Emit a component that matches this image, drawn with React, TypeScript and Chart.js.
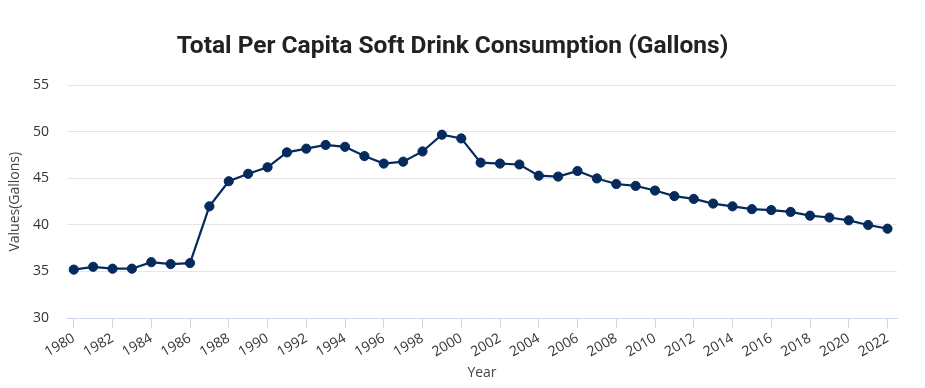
import React, { useEffect, useRef } from "react";
import { Chart, registerables } from "chart.js";

Chart.register(...registerables);

const years: number[] = [
  1980, 1981, 1982, 1983, 1984, 1985, 1986, 1987, 1988, 1989, 1990, 1991, 1992, 1993,
  1994, 1995, 1996, 1997, 1998, 1999, 2000, 2001, 2002, 2003, 2004, 2005, 2006, 2007,
  2008, 2009, 2010, 2011, 2012, 2013, 2014, 2015, 2016, 2017, 2018, 2019, 2020, 2021, 2022,
];

const gallons: number[] = [
  35.2, 35.5, 35.3, 35.3, 36.0, 35.8, 35.9, 42.0, 44.7, 45.5, 46.2, 47.8, 48.2, 48.6,
  48.4, 47.4, 46.6, 46.8, 47.9, 49.7, 49.3, 46.7, 46.6, 46.5, 45.3, 45.2, 45.8, 45.0,
  44.4, 44.2, 43.7, 43.1, 42.8, 42.3, 42.0, 41.7, 41.6, 41.4, 41.0, 40.8, 40.5, 40.0, 39.6,
];

const yTicks: number[] = [30, 35, 40, 45, 50, 55];
const xTickYears: number[] = years.filter((y) => y % 2 === 0);

const titleText = "Total Per Capita Soft Drink Consumption (Gallons)";
const yTitle = "Values(Gallons)";
const xTitle = "Year";

export default function App() {
  const ref = useRef<HTMLCanvasElement | null>(null);

  useEffect(() => {
    if (!ref.current) return;
    const tickFont = { family: "'Open Sans', sans-serif", size: 14 };
    const chart = new Chart(ref.current, {
      type: "line",
      data: {
        datasets: [
          {
            label: "Gallons",
            data: years.map((y, i) => ({ x: y, y: gallons[i] })),
            borderColor: "#052a5c",
            backgroundColor: "#052a5c",
            borderWidth: 2.2,
            pointRadius: 4.6,
            pointBorderWidth: 1,
            pointBackgroundColor: "#052a5c",
            pointBorderColor: "#052a5c",
            tension: 0,
          },
        ],
      },
      options: {
        animation: false,
        responsive: true,
        maintainAspectRatio: false,
        layout: { padding: { left: 0, right: 20, top: 0, bottom: 0 } },
        plugins: {
          legend: { display: false },
          tooltip: { enabled: false },
          title: {
            display: true,
            text: titleText,
            color: "#222222",
            font: { family: "Roboto, sans-serif", size: 24.5, weight: "bold", lineHeight: 1.2 },
            padding: { top: 24, bottom: 24 },
          },
        },
        scales: {
          x: {
            type: "linear",
            min: 1979.65,
            max: 2022.49,
            afterBuildTicks: (axis: any) => {
              axis.ticks = xTickYears.map((v) => ({ value: v }));
            },
            afterFit: (scale: any) => {
              scale.height = 62;
            },
            grid: {
              drawOnChartArea: false,
              drawTicks: true,
              tickLength: 10,
              color: "#ccd6eb",
            },
            border: { display: true, color: "#ccd6eb", width: 1 },
            ticks: {
              autoSkip: false,
              minRotation: 30,
              maxRotation: 30,
              color: "#333333",
              font: tickFont,
              padding: 2,
              callback: (v: any) => String(v),
            },
            title: {
              display: true,
              text: xTitle,
              color: "#444444",
              font: { family: "'Open Sans', sans-serif", size: 14, lineHeight: 1 },
              padding: 0,
            },
          },
          y: {
            min: 30,
            max: 55,
            afterBuildTicks: (axis: any) => {
              axis.ticks = yTicks.map((v) => ({ value: v }));
            },
            afterFit: (scale: any) => {
              scale.width = 59;
            },
            grid: { color: "#e6e6e6", drawTicks: false },
            border: { display: false },
            ticks: {
              color: "#333333",
              font: tickFont,
              padding: 18,
            },
            title: {
              display: true,
              text: yTitle,
              color: "#444444",
              font: { family: "'Open Sans', sans-serif", size: 14, lineHeight: 1 },
              padding: 0,
            },
          },
        },
      },
    });
    return () => chart.destroy();
  }, []);

  return (
    <div style={{ width: 909, height: 372, position: "relative" }}>
      <canvas ref={ref} />
    </div>
  );
}
